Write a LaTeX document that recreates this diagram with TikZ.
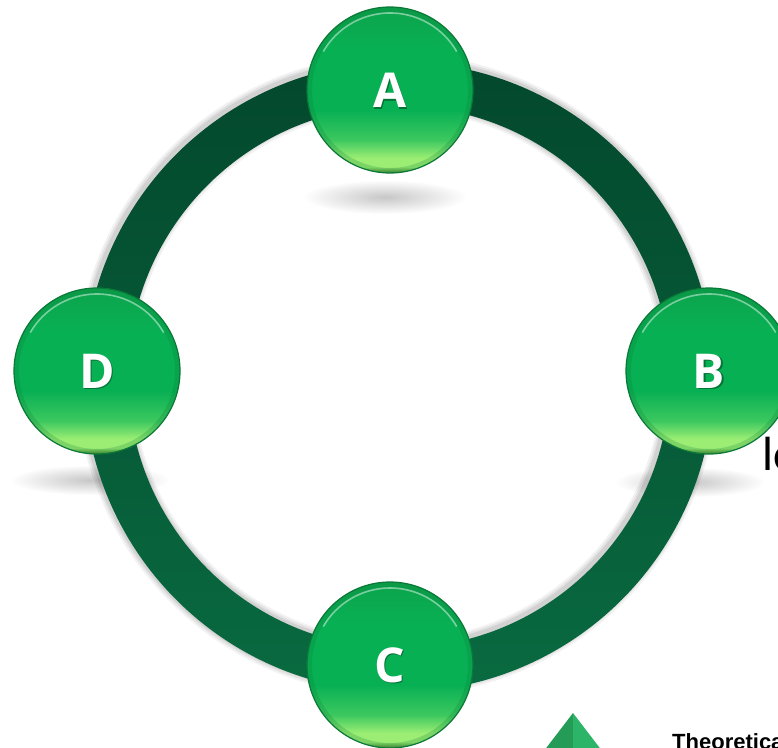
\documentclass[tikz,border=0pt]{standalone}
\usepackage{fontspec}
\newfontfamily\knobfont{Open Sans}
\newfontfamily\tagfont{Liberation Sans}
\newfontfamily\runfont{Carlito}

\definecolor{ringtop}{RGB}{3,72,45}
\definecolor{ringbot}{RGB}{9,106,64}
\definecolor{knobtop}{RGB}{12,164,76}
\definecolor{knobmid}{RGB}{8,176,84}
\definecolor{knobsoft}{RGB}{60,200,95}
\definecolor{knoblow}{RGB}{155,238,115}
\definecolor{knobedge}{RGB}{70,130,45}
\definecolor{knobrim}{RGB}{10,120,55}
\definecolor{tridark}{RGB}{36,156,88}
\definecolor{trilight}{RGB}{44,180,104}

\pgfdeclareverticalshading{knobshade}{100bp}{%
  color(0bp)=(knobedge); color(25bp)=(knobedge); color(26.8bp)=(knoblow);
  color(29.5bp)=(knoblow); color(35bp)=(knobsoft); color(44bp)=(knobmid);
  color(62bp)=(knobmid); color(75bp)=(knobtop); color(100bp)=(knobtop)}

\begin{document}
\begin{tikzpicture}[
    x=1pt, y=-1pt,
    % Reusable styles
    knob/.style={
      circle,
      minimum size=166pt,
      inner sep=0pt,
      shading=knobshade,
      draw=knobrim,
      line width=1.2pt,
      path picture={
        \fill[knobrim, opacity=.22, even odd rule] (path picture bounding box.center) circle (83pt) circle (78pt);
        \draw[white, opacity=.45, line width=1.6pt] ([shift={(150:77pt)}]path picture bounding box.center) arc[start angle=150, end angle=30, radius=77pt];
      }
    },
    glyph/.style={text=white, font=\knobfont\bfseries\fontsize{48}{48}\selectfont, inner sep=0pt},
    glyphdrop/.style={glyph, text=black, opacity=.35},
    drop/.style={inner color=black!22, outer color=white}
  ]
  \clip (0,0) rectangle (778,747);
  \fill[white] (0,0) rectangle (778,747);
  \coordinate (hub) at (399,377);

  % Shadows under the knobs
  \shade[drop] (385,197) ellipse [x radius=82pt, y radius=17pt];
  \shade[drop] (90,480) ellipse [x radius=80pt, y radius=15pt];
  \shade[drop] (690,482) ellipse [x radius=75pt, y radius=15pt];

  % Ring
  \foreach \w/\o in {56/.05, 52/.06, 48/.08}
    \draw[black, opacity=\o, line width=\w pt] ([shift={(-2,-2)}]hub) circle (293pt);
  \shade[top color=ringtop, bottom color=ringbot, even odd rule] (hub) circle (315pt) (hub) circle (271pt);

  % Knobs
  \foreach \n/\x/\y in {A/390/90, B/709/371, C/390/665, D/97/371}{
    \node[knob] (\n) at (\x,\y) {};
    \node[glyphdrop] at ([shift={(1.2,1.8)}]\n.center) {\n};
    \node[glyph] (\n-text) at (\n.center) {\n};
  }

  % Cut-off texts
  \node[anchor=base west, inner sep=0pt, font=\runfont\fontsize{48}{48}\selectfont] (run) at (762,470) {lc};
  \fill[tridark] (573,713) -- (573,760) -- (537,760) -- cycle;
  \fill[trilight] (573,713) -- (609,760) -- (573,760) -- cycle;
  \node[anchor=base west, inner sep=0pt, font=\tagfont\bfseries\fontsize{22}{22}\selectfont] (theo) at (672,749) {Theoretica};
\end{tikzpicture}
\end{document}
